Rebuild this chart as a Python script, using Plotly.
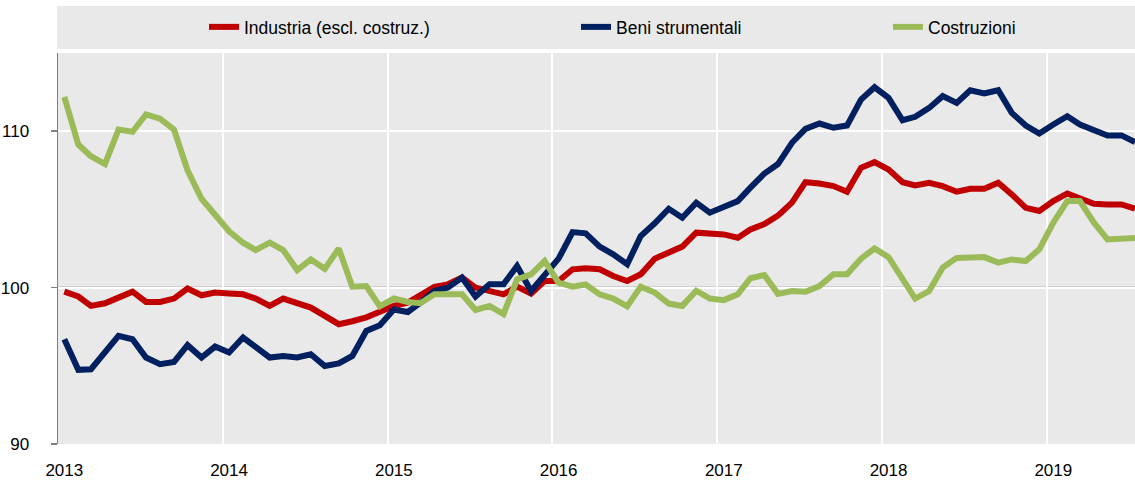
import pandas as pd
import plotly.graph_objects as go

# Monthly observations, January 2013 - July 2019 (plotted at mid-month)
months = (pd.date_range(start="2013-01-01", periods=79, freq="MS") + pd.Timedelta(days=14)).strftime("%Y-%m-%d").tolist()

series_names = ["Industria (escl. costruz.)", "Beni strumentali", "Costruzioni"]

industria = [99.74, 99.43, 98.83, 99.0, 99.36, 99.74, 99.08, 99.08, 99.3, 99.94, 99.51, 99.68,
             99.62, 99.57, 99.3, 98.83, 99.3, 99.0, 98.72, 98.19, 97.66, 97.85, 98.1, 98.45,
             98.83, 99.04, 99.47, 100.04, 100.21, 100.64, 100.0, 99.83, 99.57, 100.06, 99.62, 100.42,
             100.42, 101.17, 101.23, 101.17, 100.74, 100.42, 100.85, 101.85, 102.23, 102.62, 103.51, 103.47,
             103.4, 103.19, 103.72, 104.06, 104.6, 105.43, 106.74, 106.66, 106.49, 106.13, 107.66, 108.02,
             107.55, 106.74, 106.53, 106.7, 106.49, 106.13, 106.32, 106.32, 106.7, 105.96, 105.1, 104.9,
             105.53, 106.02, 105.68, 105.36, 105.32, 105.32, 105.04]

beni_strumentali = [96.7, 94.74, 94.78, 95.89, 96.91, 96.7, 95.53, 95.1, 95.25, 96.32, 95.53, 96.23,
                    95.85, 96.81, 96.17, 95.53, 95.63, 95.53, 95.74, 94.99, 95.15, 95.63, 97.23, 97.59,
                    98.6, 98.44, 99.04, 99.78, 100.0, 100.64, 99.43, 100.21, 100.21, 101.38, 99.78, 100.85,
                    101.85, 103.55, 103.47, 102.62, 102.13, 101.49, 103.3, 104.11, 105.04, 104.47, 105.43, 104.79,
                    105.11, 105.53, 106.39, 107.3, 107.9, 109.26, 110.15, 110.49, 110.22, 110.36, 112.02, 112.81,
                    112.13, 110.7, 110.92, 111.49, 112.24, 111.81, 112.62, 112.41, 112.62, 111.17, 110.36, 109.85,
                    110.43, 110.96, 110.43, 110.11, 109.73, 109.73, 109.3]

costruzioni = [112.2, 109.15, 108.4, 107.9, 110.1, 109.96, 111.07, 110.8, 110.1, 107.5, 105.68, 104.68,
               103.6, 102.87, 102.4, 102.87, 102.4, 101.12, 101.8, 101.2, 102.5, 100.06, 100.1, 98.8,
               99.3, 99.08, 99.0, 99.57, 99.57, 99.57, 98.57, 98.83, 98.3, 100.53, 100.85, 101.7,
               100.32, 100.06, 100.2, 99.57, 99.3, 98.8, 100.06, 99.68, 98.98, 98.83, 99.8, 99.3,
               99.2, 99.57, 100.6, 100.8, 99.6, 99.78, 99.74, 100.1, 100.85, 100.85, 101.85, 102.5,
               101.95, 100.47, 99.3, 99.78, 101.28, 101.9, 101.95, 101.95, 101.6, 101.8, 101.7, 102.45,
               104.15, 105.53, 105.53, 104.15, 103.08, 103.13, 103.17]

year_tick_dates = ["2013-01-15", "2014-01-15", "2015-01-15", "2016-01-15", "2017-01-15", "2018-01-15", "2019-01-15"]
year_tick_labels = ["2013", "2014", "2015", "2016", "2017", "2018", "2019"]
y_ticks = [90, 100, 110]
reference_level = 100

FONT = "Liberation Sans, Arial, sans-serif"
colors = ["#C00000", "#002060", "#9BBB59"]
values = [industria, beni_strumentali, costruzioni]
legends = ["legend", "legend2", "legend3"]

fig = go.Figure()
for name, vals, col, lg in zip(series_names, values, colors, legends):
    fig.add_trace(go.Scatter(x=months, y=vals, name=name, mode="lines", showlegend=True,
                             line=dict(color=col, width=6), legend=lg))

W, H = 1135, 484
ml, mr, mt, mb = 58, 0, 53, 40
pw, ph = W - ml - mr, H - mt - mb


def px_to_paper_x(screen_x):
    return (screen_x - ml) / pw


def px_to_paper_y(screen_y):
    return (H - mb - screen_y) / ph


# grey legend band
fig.add_shape(type="rect", xref="paper", yref="paper",
              x0=px_to_paper_x(57), x1=1.0, y0=px_to_paper_y(49), y1=px_to_paper_y(6),
              fillcolor="#E9E9E9", line=dict(width=0), layer="below")
# reference line at 100
fig.add_shape(type="line", xref="paper", yref="y", x0=0, x1=1,
              y0=reference_level, y1=reference_level,
              line=dict(color="#7F7F7F", width=1.5), layer="below")

leg_common = dict(orientation="h", xanchor="left", yanchor="middle", bgcolor="rgba(0,0,0,0)",
                  borderwidth=0, font=dict(family=FONT, size=17.5, color="#000000"))
fig.update_layout(
    width=W, height=H,
    margin=dict(l=ml, r=mr, t=mt, b=mb),
    paper_bgcolor="white", plot_bgcolor="#E9E9E9",
    font=dict(family=FONT, size=17, color="#000000"),
    showlegend=True,
    legend=dict(x=px_to_paper_x(204), y=px_to_paper_y(27), **leg_common),
    legend2=dict(x=px_to_paper_x(576), y=px_to_paper_y(27), **leg_common),
    legend3=dict(x=px_to_paper_x(888), y=px_to_paper_y(27), **leg_common),
    xaxis=dict(type="date", range=["2013-01-01", "2019-07-15"],
               tickvals=year_tick_dates, ticktext=year_tick_labels, ticks="",
               showgrid=False, showline=False, zeroline=False,
               ticklabelstandoff=14,
               tickfont=dict(family=FONT, size=17, color="#000000"),
               minor=dict(dtick="M12", tick0="2013-01-01", showgrid=True,
                          gridcolor="white", gridwidth=2, ticks="")),
    yaxis=dict(range=[90, 115], tickvals=y_ticks, ticks="outside", ticklen=6,
               tickcolor="#7F7F7F", tickwidth=1.5,
               showline=True, linecolor="#7F7F7F", linewidth=1.5,
               showgrid=True, gridcolor="white", gridwidth=2, zeroline=False,
               ticklabelstandoff=18,
               tickfont=dict(family=FONT, size=17, color="#000000")),
    hovermode=False,
)

# remove the default page margin so the figure fills the 1135x484 window exactly
fig.write_html("out.html",
               config={"displayModeBar": False, "staticPlot": True},
               post_script="document.body.style.margin='0px';document.body.style.overflow='hidden';")
